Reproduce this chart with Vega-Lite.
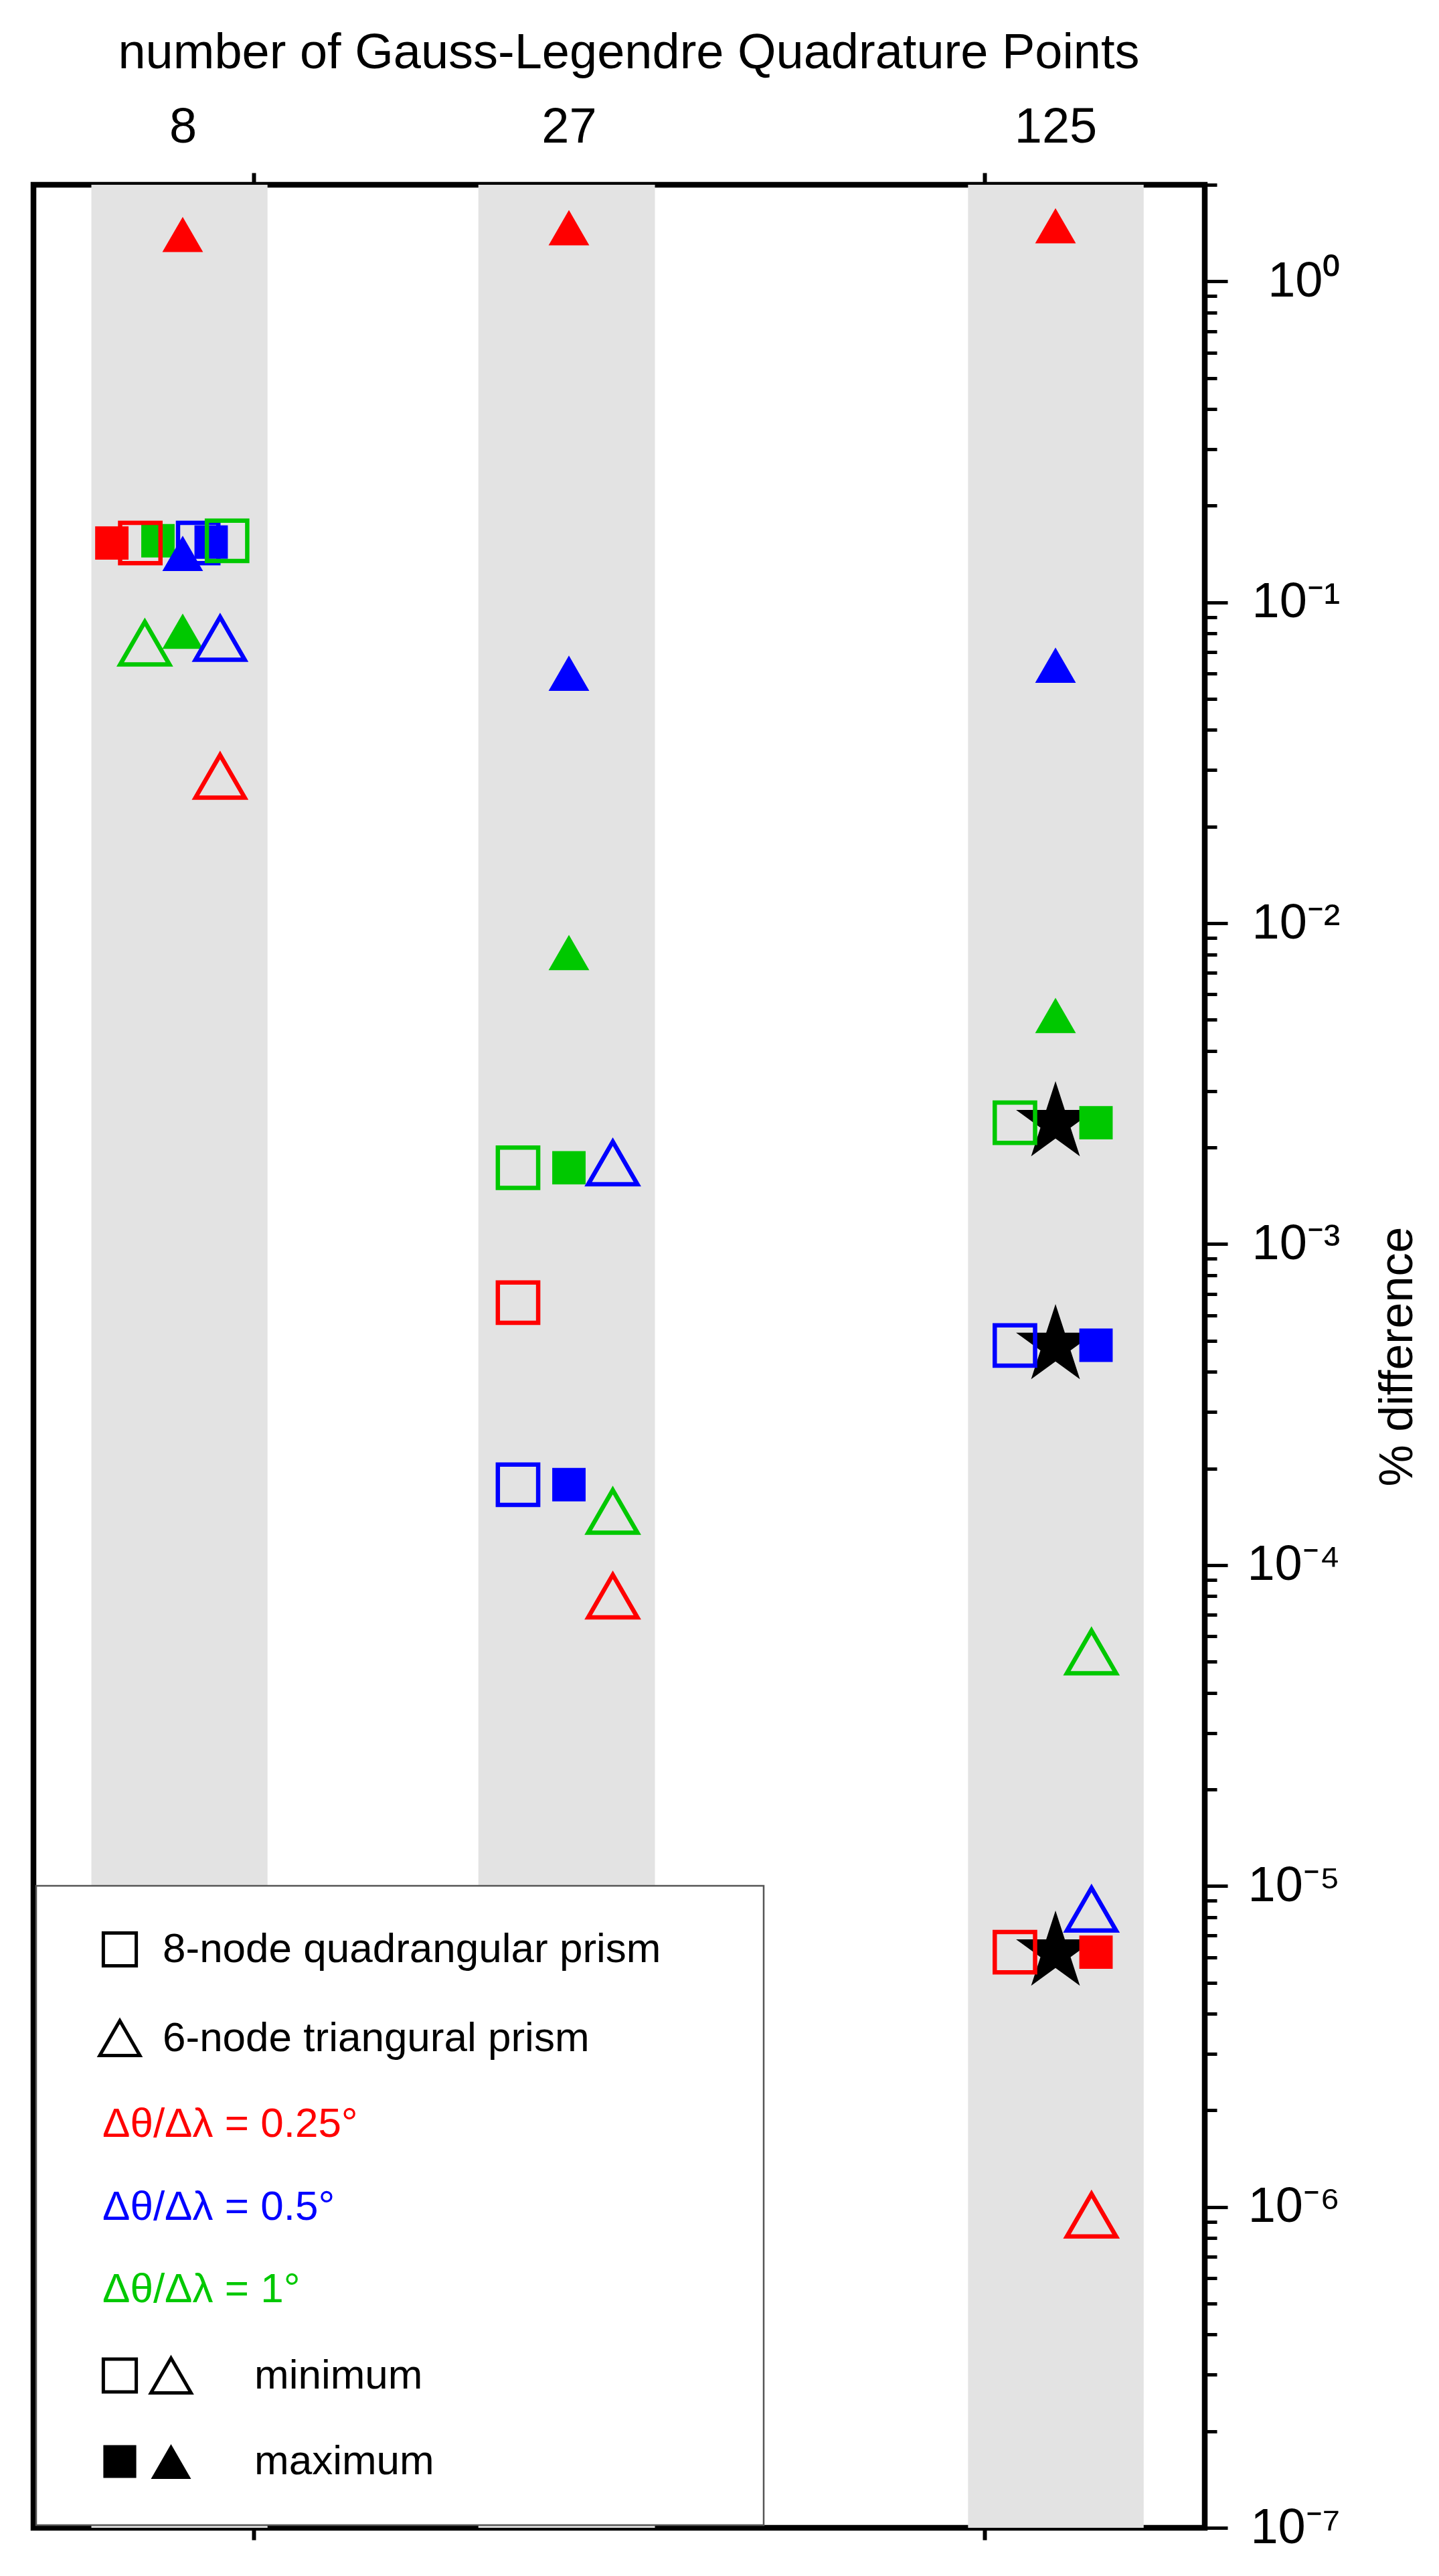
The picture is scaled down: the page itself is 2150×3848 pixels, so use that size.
{
  "$schema": "https://vega.github.io/schema/vega-lite/v6.json",
  "width": 1750,
  "height": 3500,
  "autosize": {"type": "none"},
  "padding": {"left": 50, "top": 276, "right": 350, "bottom": 72},
  "background": "white",
  "datasets": {
    "bands": [
      {"N": 8, "lo": 6.0, "hi": 10.45},
      {"N": 27, "lo": 20.3, "hi": 35.4},
      {"N": 125, "lo": 94.9, "hi": 165}
    ],
    "stars": [
      {"N": 125, "x": 125, "value": 0.00239},
      {"N": 125, "x": 125, "value": 0.000483},
      {"N": 125, "x": 125, "value": 0.00000622}
    ],
    "points": [
      {"N": 8, "x": 6.4, "res": "Δθ/Δλ = 0.25°", "element": "8-node quadrangular prism", "stat": "maximum", "value": 0.153},
      {"N": 8, "x": 7.0, "res": "Δθ/Δλ = 0.25°", "element": "8-node quadrangular prism", "stat": "minimum", "value": 0.153},
      {"N": 8, "x": 7.4, "res": "Δθ/Δλ = 1°", "element": "8-node quadrangular prism", "stat": "maximum", "value": 0.1555},
      {"N": 8, "x": 8.4, "res": "Δθ/Δλ = 0.5°", "element": "8-node quadrangular prism", "stat": "minimum", "value": 0.153},
      {"N": 8, "x": 8.75, "res": "Δθ/Δλ = 0.5°", "element": "8-node quadrangular prism", "stat": "maximum", "value": 0.154},
      {"N": 8, "x": 9.2, "res": "Δθ/Δλ = 1°", "element": "8-node quadrangular prism", "stat": "minimum", "value": 0.1555},
      {"N": 27, "x": 23, "res": "Δθ/Δλ = 1°", "element": "8-node quadrangular prism", "stat": "minimum", "value": 0.00173},
      {"N": 27, "x": 27, "res": "Δθ/Δλ = 1°", "element": "8-node quadrangular prism", "stat": "maximum", "value": 0.00173},
      {"N": 27, "x": 23, "res": "Δθ/Δλ = 0.25°", "element": "8-node quadrangular prism", "stat": "minimum", "value": 0.000657},
      {"N": 27, "x": 23, "res": "Δθ/Δλ = 0.5°", "element": "8-node quadrangular prism", "stat": "minimum", "value": 0.000178},
      {"N": 27, "x": 27, "res": "Δθ/Δλ = 0.5°", "element": "8-node quadrangular prism", "stat": "maximum", "value": 0.000178},
      {"N": 125, "x": 110, "res": "Δθ/Δλ = 1°", "element": "8-node quadrangular prism", "stat": "minimum", "value": 0.00239},
      {"N": 125, "x": 142, "res": "Δθ/Δλ = 1°", "element": "8-node quadrangular prism", "stat": "maximum", "value": 0.00239},
      {"N": 125, "x": 110, "res": "Δθ/Δλ = 0.5°", "element": "8-node quadrangular prism", "stat": "minimum", "value": 0.000483},
      {"N": 125, "x": 142, "res": "Δθ/Δλ = 0.5°", "element": "8-node quadrangular prism", "stat": "maximum", "value": 0.000484},
      {"N": 125, "x": 110, "res": "Δθ/Δλ = 0.25°", "element": "8-node quadrangular prism", "stat": "minimum", "value": 0.00000622},
      {"N": 125, "x": 142, "res": "Δθ/Δλ = 0.25°", "element": "8-node quadrangular prism", "stat": "maximum", "value": 0.00000622},
      {"N": 8, "x": 8, "res": "Δθ/Δλ = 0.25°", "element": "6-node triangural prism", "stat": "maximum", "value": 1.40},
      {"N": 8, "x": 8, "res": "Δθ/Δλ = 0.5°", "element": "6-node triangural prism", "stat": "maximum", "value": 0.142},
      {"N": 8, "x": 8, "res": "Δθ/Δλ = 1°", "element": "6-node triangural prism", "stat": "maximum", "value": 0.0813},
      {"N": 8, "x": 7.1, "res": "Δθ/Δλ = 1°", "element": "6-node triangural prism", "stat": "minimum", "value": 0.0746},
      {"N": 8, "x": 9.0, "res": "Δθ/Δλ = 0.5°", "element": "6-node triangural prism", "stat": "minimum", "value": 0.0772},
      {"N": 8, "x": 9.0, "res": "Δθ/Δλ = 0.25°", "element": "6-node triangural prism", "stat": "minimum", "value": 0.0287},
      {"N": 27, "x": 27, "res": "Δθ/Δλ = 0.25°", "element": "6-node triangural prism", "stat": "maximum", "value": 1.47},
      {"N": 27, "x": 27, "res": "Δθ/Δλ = 0.5°", "element": "6-node triangural prism", "stat": "maximum", "value": 0.0601},
      {"N": 27, "x": 27, "res": "Δθ/Δλ = 1°", "element": "6-node triangural prism", "stat": "maximum", "value": 0.0081},
      {"N": 27, "x": 31, "res": "Δθ/Δλ = 0.5°", "element": "6-node triangural prism", "stat": "minimum", "value": 0.00179},
      {"N": 27, "x": 31, "res": "Δθ/Δλ = 1°", "element": "6-node triangural prism", "stat": "minimum", "value": 0.000147},
      {"N": 27, "x": 31, "res": "Δθ/Δλ = 0.25°", "element": "6-node triangural prism", "stat": "minimum", "value": 0.00008},
      {"N": 125, "x": 125, "res": "Δθ/Δλ = 0.25°", "element": "6-node triangural prism", "stat": "maximum", "value": 1.49},
      {"N": 125, "x": 125, "res": "Δθ/Δλ = 0.5°", "element": "6-node triangural prism", "stat": "maximum", "value": 0.0637},
      {"N": 125, "x": 125, "res": "Δθ/Δλ = 1°", "element": "6-node triangural prism", "stat": "maximum", "value": 0.00516},
      {"N": 125, "x": 140, "res": "Δθ/Δλ = 1°", "element": "6-node triangural prism", "stat": "minimum", "value": 0.0000536},
      {"N": 125, "x": 140, "res": "Δθ/Δλ = 0.5°", "element": "6-node triangural prism", "stat": "minimum", "value": 0.00000846},
      {"N": 125, "x": 140, "res": "Δθ/Δλ = 0.25°", "element": "6-node triangural prism", "stat": "minimum", "value": 0.000000942}
    ]
  },
  "resolve": {"axis": {"x": "independent", "y": "independent"}},
  "layer": [
    {
      "data": {"name": "bands"},
      "mark": {"type": "rect", "color": "#e3e3e3"},
      "encoding": {
        "x": {
          "field": "lo", "type": "quantitative",
          "scale": {"type": "log", "domain": [5, 200], "nice": false},
          "axis": {"orient": "bottom", "values": [10, 100], "labels": false, "ticks": true, "tickSize": 18, "tickWidth": 6, "tickColor": "black", "domain": false, "grid": false, "title": null}
        },
        "x2": {"field": "hi"}
      }
    },
    {
      "data": {"name": "stars"},
      "mark": {"type": "point", "shape": "M0,-1L0.2245,-0.309L0.951,-0.309L0.363,0.118L0.588,0.809L0,0.382L-0.588,0.809L-0.363,0.118L-0.951,-0.309L-0.2245,-0.309Z", "size": 15376, "filled": true, "color": "black", "opacity": 1, "strokeWidth": 0},
      "encoding": {
        "x": {
          "field": "x", "type": "quantitative",
          "scale": {"type": "log", "domain": [5, 200], "nice": false},
          "axis": {"orient": "top", "values": [10, 100], "labels": false, "ticks": true, "tickSize": 18, "tickWidth": 6, "tickColor": "black", "domain": false, "grid": false, "title": null}
        },
        "y": {
          "field": "value", "type": "quantitative",
          "scale": {"type": "log", "domain": [0.0000001, 2], "nice": false},
          "axis": {
            "orient": "right",
            "values": [1e-7, 1e-6, 1e-5, 1e-4, 0.001, 0.01, 0.1, 1],
            "labelExpr": "'10' + (round(log(datum.value)/LN10) < 0 ? '⁻' : '') + ['⁰','¹','²','³','⁴','⁵','⁶','⁷','⁸','⁹'][abs(round(log(datum.value)/LN10))]",
            "tickSize": 34,
            "tickWidth": 5,
            "tickColor": "black",
            "domain": false,
            "grid": false,
            "labelAlign": "right",
            "labelBaseline": "middle",
            "labelPadding": 168,
            "labelFontSize": 74,
            "labelOverlap": false,
            "labelFlush": false,
            "labelBound": false,
            "title": "% difference",
            "titleFontSize": 70,
            "titleFontWeight": "normal",
            "titleAngle": 270,
            "titleBaseline": "top",
            "titlePadding": 54
          }
        }
      }
    },
    {
      "data": {"name": "points"},
      "transform": [{"filter": "datum.stat === 'maximum'"}],
      "mark": {"type": "point", "filled": true, "size": 3700, "opacity": 1, "strokeWidth": 0},
      "encoding": {
        "x": {
          "field": "x", "type": "quantitative",
          "scale": {"type": "log", "domain": [5, 200], "nice": false},
          "axis": {"orient": "top", "values": [8, 27, 125], "format": "d", "ticks": false, "domain": false, "grid": false, "labelFontSize": 74, "labelPadding": 48, "labelOverlap": false, "labelFlush": false, "title": "number of Gauss-Legendre Quadrature Points", "titleFontSize": 74, "titleFontWeight": "normal", "titlePadding": 36, "titleX": 889}
        },
        "y": {
          "field": "value", "type": "quantitative",
          "scale": {"type": "log", "domain": [0.0000001, 2], "nice": false},
          "axis": {
            "orient": "right",
            "values": [2e-7, 3e-7, 4e-7, 5e-7, 6e-7, 7e-7, 8e-7, 9e-7,
                       2e-6, 3e-6, 4e-6, 5e-6, 6e-6, 7e-6, 8e-6, 9e-6,
                       2e-5, 3e-5, 4e-5, 5e-5, 6e-5, 7e-5, 8e-5, 9e-5,
                       2e-4, 3e-4, 4e-4, 5e-4, 6e-4, 7e-4, 8e-4, 9e-4,
                       0.002, 0.003, 0.004, 0.005, 0.006, 0.007, 0.008, 0.009,
                       0.02, 0.03, 0.04, 0.05, 0.06, 0.07, 0.08, 0.09,
                       0.2, 0.3, 0.4, 0.5, 0.6, 0.7, 0.8, 0.9, 2],
            "labels": false,
            "tickSize": 18,
            "tickWidth": 5,
            "tickColor": "black",
            "domain": false,
            "grid": false,
            "title": null
          }
        },
        "color": {
          "field": "res", "type": "nominal",
          "scale": {"domain": ["Δθ/Δλ = 0.25°", "Δθ/Δλ = 0.5°", "Δθ/Δλ = 1°"], "range": ["#ff0000", "#0000ff", "#00c800"]},
          "legend": null
        },
        "shape": {
          "field": "element", "type": "nominal",
          "scale": {
            "domain": ["8-node quadrangular prism", "6-node triangural prism", "Δθ/Δλ = 0.25°", "Δθ/Δλ = 0.5°", "Δθ/Δλ = 1°", "minimum", "maximum"],
            "range": ["M-0.82,-0.82H0.82V0.82H-0.82Z", "M0,-0.866L1,0.866L-1,0.866Z", "M29.6,0", "M29.6,0", "M29.6,0", "M-0.82,-0.82H0.82V0.82H-0.82Z M2.55,-0.866L3.55,0.866L1.55,0.866Z", "M-0.82,-0.82H0.82V0.82H-0.82Z M2.55,-0.866L3.55,0.866L1.55,0.866Z"]
          },
          "legend": {
            "title": null,
            "orient": "bottom-left",
            "offset": 4,
            "padding": 64,
            "fillColor": "white",
            "strokeColor": "#555555",
            "rowPadding": 61.5,
            "symbolSize": 3600,
            "symbolOffset": 30,
            "symbolOpacity": 1,
            "symbolStrokeColor": "black",
            "symbolStrokeWidth": {"expr": "datum.value === 'maximum' ? 0 : 5"},
            "symbolFillColor": {"expr": "datum.value === 'maximum' ? '#000000' : 'transparent'"},
            "labelFont": "Liberation Sans",
            "labelFontSize": 62,
            "labelLimit": 3000,
            "labelColor": {"expr": "datum.value === 'Δθ/Δλ = 0.25°' ? '#ff0000' : datum.value === 'Δθ/Δλ = 0.5°' ? '#0000ff' : datum.value === 'Δθ/Δλ = 1°' ? '#00c800' : '#000000'"},
            "labelOffset": {"expr": "(datum.value === 'minimum' || datum.value === 'maximum') ? 170 : (datum.value === '8-node quadrangular prism' || datum.value === '6-node triangural prism') ? 33 : -57"}
          }
        }
      }
    },
    {
      "data": {"name": "points"},
      "transform": [{"filter": "datum.stat === 'minimum'"}],
      "mark": {"type": "point", "filled": false, "size": 5400, "opacity": 1, "strokeWidth": 6.5},
      "encoding": {
        "x": {
          "field": "x", "type": "quantitative",
          "scale": {"type": "log", "domain": [5, 200], "nice": false},
          "axis": null
        },
        "y": {
          "field": "value", "type": "quantitative",
          "scale": {"type": "log", "domain": [0.0000001, 2], "nice": false},
          "axis": null
        },
        "color": {
          "field": "res", "type": "nominal",
          "scale": {"domain": ["Δθ/Δλ = 0.25°", "Δθ/Δλ = 0.5°", "Δθ/Δλ = 1°"], "range": ["#ff0000", "#0000ff", "#00c800"]},
          "legend": null
        },
        "shape": {
          "field": "element", "type": "nominal",
          "scale": {
            "domain": ["8-node quadrangular prism", "6-node triangural prism", "Δθ/Δλ = 0.25°", "Δθ/Δλ = 0.5°", "Δθ/Δλ = 1°", "minimum", "maximum"],
            "range": ["M-0.82,-0.82H0.82V0.82H-0.82Z", "M0,-0.866L1,0.866L-1,0.866Z", "M29.6,0", "M29.6,0", "M29.6,0", "M-0.82,-0.82H0.82V0.82H-0.82Z M2.55,-0.866L3.55,0.866L1.55,0.866Z", "M-0.82,-0.82H0.82V0.82H-0.82Z M2.55,-0.866L3.55,0.866L1.55,0.866Z"]
          },
          "legend": null
        }
      }
    }
  ],
  "config": {
    "font": "Liberation Sans",
    "view": {"stroke": "black", "strokeWidth": 8.5},
    "axis": {"labelFont": "Liberation Sans", "titleFont": "Liberation Sans", "labelColor": "black", "titleColor": "black", "grid": false},
    "legend": {"strokeWidth": 2.5}
  }
}
